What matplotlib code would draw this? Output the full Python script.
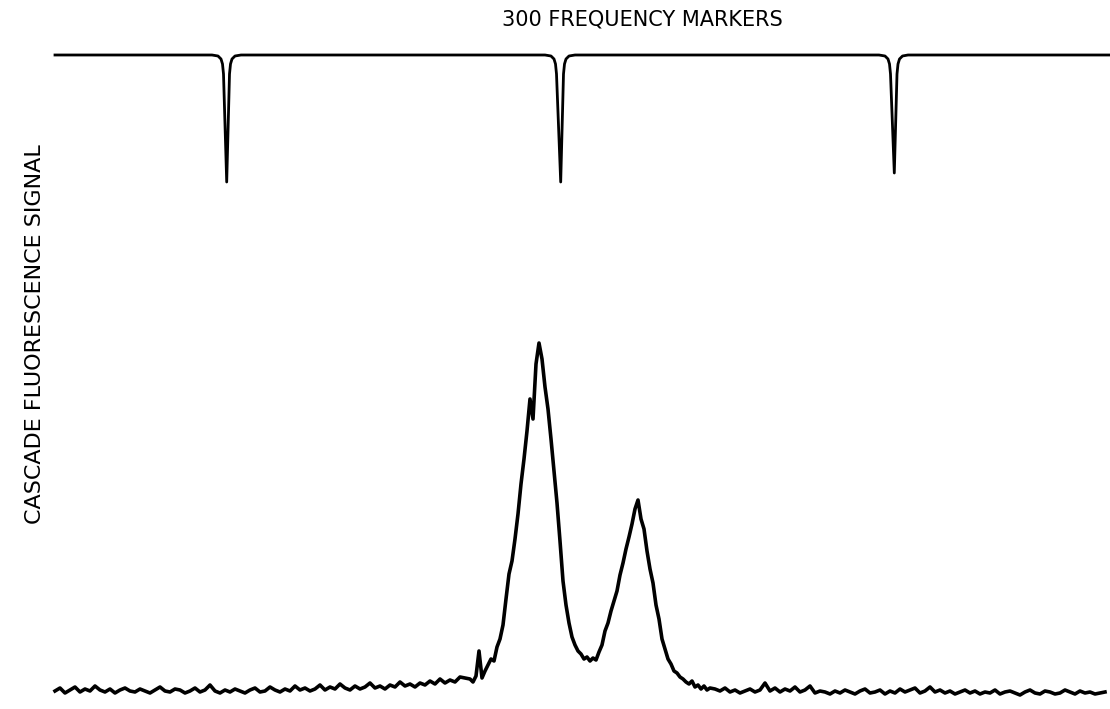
import numpy as np
import matplotlib
matplotlib.use("Agg")
import matplotlib.pyplot as plt

# frequency-marker trace (scan position, signal level)
marker_x = [55, 212, 218, 221, 222.5, 223.5, 226.7, 229.5, 230.5, 232, 235, 241,
            545, 551, 554, 555.5, 556.5, 560.7, 563.5, 564.5, 566, 569, 575,
            879, 885, 888, 889.5, 890.5, 894.3, 897, 898, 899.5, 902.5, 908,
            1110]
marker_y = [654, 654, 653, 650, 645, 635, 527, 635, 645, 650, 653, 654,
            654, 653, 650, 645, 635, 527, 635, 645, 650, 653, 654,
            654, 653, 650, 645, 635, 536, 635, 645, 650, 653, 654,
            654]

# cascade fluorescence: left baseline, sampled every 5 from 55
left_sig = [18, 21, 16, 19, 22, 17, 20, 18, 23, 19, 17, 20, 16, 19, 21, 18,
            17, 20, 18, 16, 19, 22, 18, 17, 20, 19, 16, 18, 21, 17, 19, 24,
            18, 16, 19, 17, 20, 18, 16, 19, 21, 17, 18, 22, 19, 17, 20, 18,
            23, 19, 21, 18, 20, 24, 19, 22, 20, 25, 21, 19, 23, 20, 22, 26,
            21, 23, 20, 24, 22, 27, 23, 25, 22, 26, 24, 28, 25, 30, 26, 29,
            27, 32]

# the two peaks, sampled every 3 from 470
peak_sig = [30, 27, 33, 58, 31, 38, 44, 50, 48, 62, 70, 84, 110, 135, 148,
            170, 195, 225, 250, 278, 310, 290, 345, 366, 350, 322, 300, 270,
            238, 206, 168, 128, 104, 86, 72, 64, 58, 55, 50, 52, 48, 51, 49,
            57, 64, 78, 86, 98, 108, 118, 134, 146, 160, 172, 185, 200, 209,
            190, 180, 158, 140, 126, 104, 90, 70, 60, 50, 45, 38, 36, 32, 30,
            27, 25, 28, 22, 24, 20, 23, 19, 21]

# right baseline, sampled every 5 from 715
right_sig = [20, 18, 21, 17, 19, 16, 18, 20, 17, 19, 26, 18, 21, 17, 20, 18,
             22, 17, 19, 23, 16, 18, 17, 15, 18, 16, 19, 17, 15, 18, 20, 16,
             17, 19, 15, 18, 16, 20, 17, 19, 21, 16, 18, 22, 17, 19, 16, 18,
             15, 17, 19, 16, 18, 15, 17, 16, 19, 15, 17, 18, 16, 14, 17, 19,
             16, 15, 18, 17, 15, 16, 19, 17, 15, 18, 16, 17, 15, 16, 17]

left_x = 55 + 5 * np.arange(len(left_sig))
peak_x = 470 + 3 * np.arange(len(peak_sig))
right_x = 715 + 5 * np.arange(len(right_sig))

fl_x = np.concatenate([left_x, peak_x, right_x])
fl_y = np.concatenate([left_sig, peak_sig, right_sig])

fig = plt.figure(figsize=(11.1, 7.09), dpi=100)
ax = fig.add_axes([0, 0, 1, 1])
ax.set_xlim(0, 1110)
ax.set_ylim(0, 709)
ax.axis('off')

ax.plot(marker_x, marker_y, color='black', lw=2.0, solid_joinstyle='round')
ax.plot(fl_x, fl_y, color='black', lw=2.6, solid_joinstyle='round')

ax.text(642, 689, '300 FREQUENCY MARKERS', ha='center', va='center',
        fontsize=15, family='DejaVu Sans')
ax.text(35, 375, 'CASCADE FLUORESCENCE SIGNAL', ha='center', va='center',
        rotation=90, fontsize=16, family='DejaVu Sans')

fig.savefig('out.png', dpi=100, facecolor='white')
